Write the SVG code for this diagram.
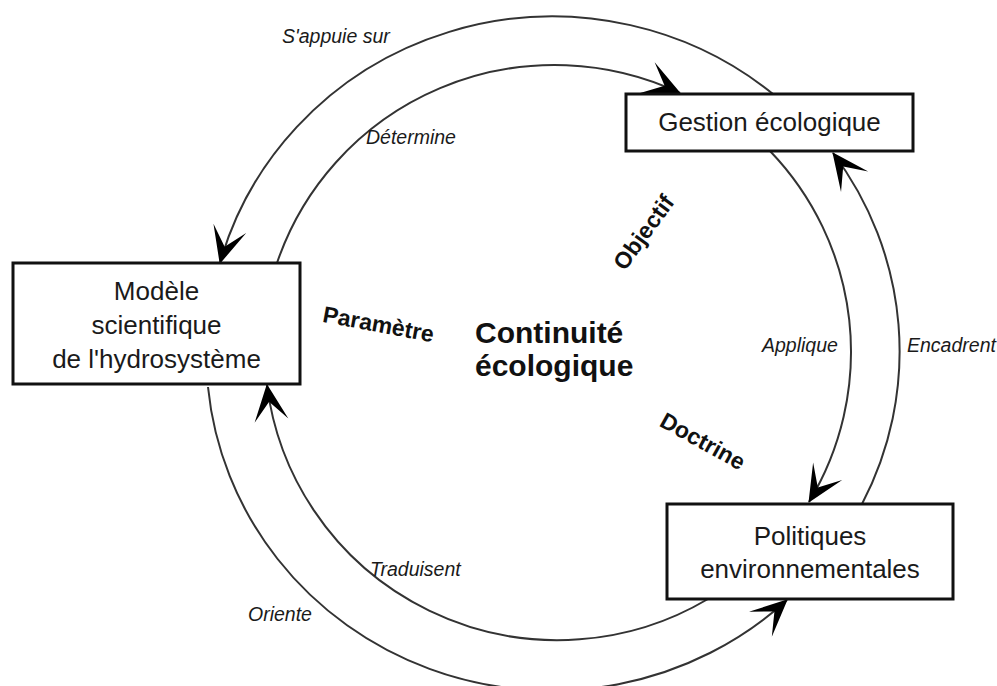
<svg xmlns="http://www.w3.org/2000/svg" width="997" height="686" viewBox="0 0 997 686">
<style>
.bg{fill:#ffffff}
.box{fill:#ffffff;stroke:#111;stroke-width:3}
.arc{fill:none;stroke:#333;stroke-width:2}
.nt{font-family:"Liberation Sans",Arial,sans-serif;font-size:26px;fill:#1a1a1a;text-anchor:middle}
.lbl{font-family:"Liberation Sans",Arial,sans-serif;font-size:19.5px;font-style:italic;fill:#1a1a1a}
.bold{font-family:"Liberation Sans",Arial,sans-serif;font-size:23px;font-weight:bold;fill:#111;text-anchor:middle}
.title{font-family:"Liberation Sans",Arial,sans-serif;font-size:30px;font-weight:bold;fill:#111}
</style>
<defs>
<marker id="arr" markerUnits="userSpaceOnUse" markerWidth="42" markerHeight="42" viewBox="-40 -21 42 42" refX="0" refY="0" orient="auto">
<path d="M1,0 L-36,-17 L-17,0 L-36,17 Z" fill="#000"/>
</marker>
</defs>
<rect class="bg" x="0" y="0" width="997" height="686"/>
<g id="connectors">
<path class="arc" d="M773,94 A345,336 0 0 0 220,263" marker-end="url(#arr)"/>
<path class="arc" d="M277,263 A293,291 0 0 1 680,93" marker-end="url(#arr)"/>
<path class="arc" d="M770,151 A293,291 0 0 1 809,502" marker-end="url(#arr)"/>
<path class="arc" d="M862,504 A345,336 0 0 0 833,153" marker-end="url(#arr)"/>
<path class="arc" d="M208,387 A345,336 0 0 0 787,600" marker-end="url(#arr)"/>
<path class="arc" d="M708,599 A293,291 0 0 1 267,385" marker-end="url(#arr)"/>
</g>
<g id="gestion">
<rect class="box" x="626" y="94" width="287" height="57"/>
<text class="nt" x="769.5" y="131">Gestion écologique</text>
</g>
<g id="modele">
<rect class="box" x="13" y="263" width="287" height="121"/>
<text class="nt" x="156.5" y="300">Modèle</text>
<text class="nt" x="156.5" y="334">scientifique</text>
<text class="nt" x="156.5" y="368">de l'hydrosystème</text>
</g>
<g id="politiques">
<rect class="box" x="667" y="504" width="286" height="95"/>
<text class="nt" x="810" y="545">Politiques</text>
<text class="nt" x="810" y="578">environnementales</text>
</g>
<g id="labels">
<text class="lbl" x="282" y="43">S'appuie sur</text>
<text class="lbl" x="366" y="144">Détermine</text>
<text class="lbl" x="762" y="352">Applique</text>
<text class="lbl" x="907" y="352">Encadrent</text>
<text class="lbl" x="370" y="576">Traduisent</text>
<text class="lbl" x="248" y="621">Oriente</text>
</g>
<g id="centre">
<text class="title" x="475" y="343">Continuité</text>
<text class="title" x="475" y="376">écologique</text>
<text class="bold" transform="translate(377,332) rotate(10.5)">Paramètre</text>
<text class="bold" transform="translate(650,237) rotate(-54)">Objectif</text>
<text class="bold" transform="translate(699,448) rotate(29)">Doctrine</text>
</g>
</svg>
